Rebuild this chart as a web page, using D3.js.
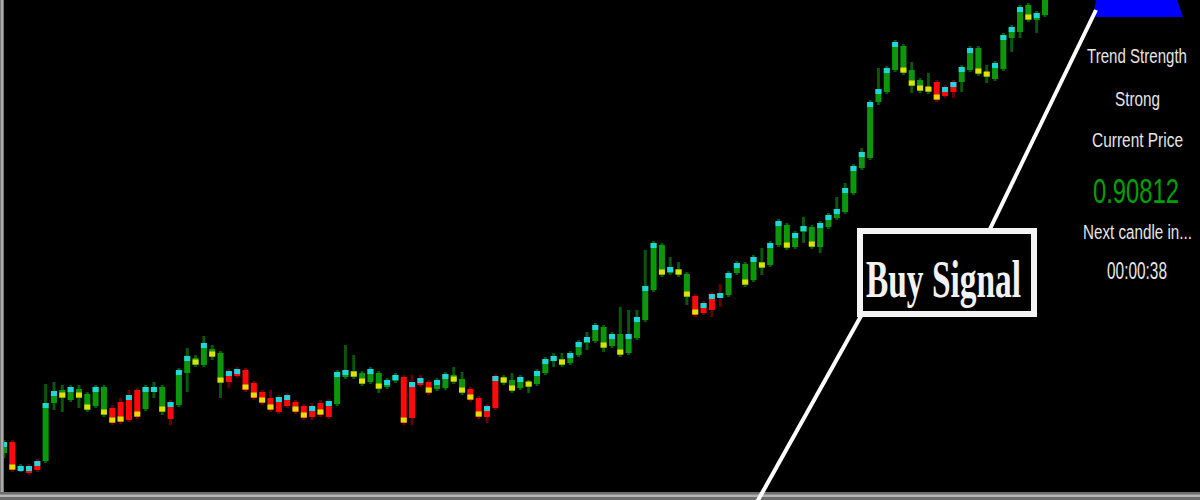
<!DOCTYPE html>
<html><head><meta charset="utf-8">
<script src="https://cdn.jsdelivr.net/npm/d3@7"></script>
<style>html,body{margin:0;padding:0;background:#000;overflow:hidden}</style>
</head><body>
<svg id="chart" width="1200" height="500"></svg>
<script>
const opens=[.8628,.8639,.8611,.8615,.8620,.8620,.8678,.8683,.8681,.8683,
.8671,.8675,.8666,.8673,.8679,.8686,.8691,.8672,.8689,.8669,
.8679,.8676,.8708,.8716,.8716,.8724,.8698,.8710,.8712,.8711,
.8698,.8689,.8683,.8684,.8686,.8679,.8675,.8675,.8678,.8680,
.8677,.8704,.8704,.8697,.8699,.8692,.8694,.8700,.8704,.8699,
.8703,.8699,.8692,.8693,.8699,.8688,.8692,.8683,.8675,.8705,
.8698,.8690,.8693,.8694,.8697,.8708,.8720,.8716,.8718,.8726,
.8738,.8740,.8733,.8735,.8726,.8728,.8743,.8761,.8791,.8806,
.8808,.8806,.8784,.8785,.8778,.8787,.8788,.8786,.8808,.8796,
.8801,.8813,.8816,.8836,.8833,.8834,.8849,.8834,.8834,.8854,
.8863,.8869,.8888,.8913,.8923,.8979,.8989,.9011,.9008,.8995,
.8990,.8989,.8999,.8994,.8999,.8999,.9011,.9007,.9004,.9002,
.9012,.9043,.9049,.9061,.9061,.9066];
const highs=[.8641,.8641,.8617,.8617,.8622,.8697,.8699,.8696,.8696,.8696,
.8689,.8696,.8696,.8676,.8683,.8691,.8693,.8696,.8699,.8696,
.8681,.8713,.8733,.8726,.8745,.8736,.8730,.8712,.8714,.8713,
.8700,.8691,.8691,.8686,.8688,.8681,.8677,.8678,.8681,.8682,
.8711,.8736,.8726,.8710,.8714,.8710,.8703,.8708,.8706,.8706,
.8706,.8701,.8703,.8709,.8714,.8709,.8694,.8685,.8677,.8707,
.8706,.8708,.8706,.8701,.8712,.8724,.8728,.8728,.8730,.8741,
.8749,.8758,.8756,.8749,.8774,.8771,.8771,.8831,.8840,.8838,
.8824,.8819,.8809,.8787,.8780,.8789,.8797,.8810,.8820,.8819,
.8826,.8833,.8840,.8862,.8858,.8850,.8864,.8856,.8860,.8868,
.8884,.8898,.8917,.8933,.8981,.9013,.9015,.9041,.9037,.9019,
.9003,.9008,.9001,.8996,.9001,.9016,.9035,.9035,.9016,.9020,
.9048,.9056,.9076,.9078,.9070,.9085];
const lows=[.8623,.8609,.8609,.8606,.8609,.8618,.8671,.8669,.8679,.8673,
.8669,.8673,.8664,.8656,.8657,.8659,.8662,.8670,.8683,.8666,
.8656,.8674,.8689,.8714,.8714,.8721,.8683,.8693,.8703,.8689,
.8681,.8676,.8669,.8667,.8673,.8667,.8661,.8661,.8664,.8662,
.8675,.8702,.8702,.8695,.8697,.8688,.8692,.8698,.8656,.8656,
.8694,.8686,.8690,.8691,.8697,.8686,.8679,.8662,.8658,.8671,
.8696,.8688,.8691,.8688,.8695,.8706,.8714,.8714,.8716,.8724,
.8731,.8738,.8729,.8733,.8724,.8726,.8741,.8759,.8789,.8804,
.8806,.8804,.8776,.8764,.8766,.8764,.8774,.8784,.8806,.8794,
.8799,.8806,.8814,.8834,.8831,.8832,.8838,.8832,.8828,.8852,
.8861,.8867,.8886,.8911,.8921,.8976,.8987,.9009,.9006,.8988,
.8988,.8987,.8979,.8983,.8983,.8989,.9009,.9005,.8998,.9000,
.9010,.9029,.9043,.9059,.9048,.9064];
const closes=[.8639,.8611,.8615,.8608,.8611,.8678,.8690,.8691,.8694,.8692,
.8687,.8694,.8694,.8658,.8659,.8661,.8664,.8694,.8694,.8694,
.8662,.8711,.8725,.8723,.8738,.8732,.8728,.8699,.8705,.8691,
.8683,.8678,.8671,.8669,.8675,.8669,.8663,.8664,.8666,.8664,
.8709,.8711,.8710,.8708,.8712,.8708,.8701,.8706,.8658,.8663,
.8696,.8688,.8701,.8707,.8706,.8702,.8681,.8664,.8664,.8673,
.8704,.8701,.8704,.8699,.8710,.8722,.8725,.8722,.8728,.8739,
.8744,.8756,.8754,.8747,.8747,.8747,.8764,.8795,.8838,.8836,
.8814,.8812,.8807,.8766,.8768,.8771,.8783,.8808,.8818,.8817,
.8824,.8819,.8838,.8860,.8856,.8848,.8855,.8854,.8858,.8866,
.8872,.8893,.8915,.8929,.8979,.8992,.9013,.9039,.9035,.9011,
.9001,.8994,.8981,.8985,.8989,.9014,.9033,.9033,.9009,.9018,
.9046,.9054,.9074,.9076,.9068,.90812];
// c = cyan mark at body top, y = yellow mark at body bottom, "" = none
const marks=["c","y","c","c","c","c","c","y","c","y",
"y","c","y","y","y","c","y","c","c","y",
"c","c","c","y","c","y","y","c","c","y",
"y","y","y","c","c","y","y","c","y","c",
"c","c","y","y","c","y","c","c","y","c",
"c","y","c","c","y","y","y","y","c","c",
"y","y","c","y","c","c","c","y","c","c",
"c","c","y","c","y","c","c","c","c","y",
"c","y","y","y","c","c","c","c","c","y",
"c","y","c","c","y","c","c","y","c","c",
"c","c","c","c","c","c","c","c","y","y",
"y","y","y","c","c","c","c","y","y","c",
"c","c","c","y","c",""];
const infoLabels=["Trend Strength","Strong","Current Price","Next candle in...","00:00:38"];
const signalLabel="Buy Signal";
const currentPrice=closes[closes.length-1];

const svg=d3.select("#chart");
svg.append("rect").attr("width",1200).attr("height",500).attr("fill","#000");

const x=d3.scaleLinear().domain([0,opens.length-1]).range([4,1045]);
const y=d3.scaleLinear().domain([0.8581,0.9081]).range([500,0]);

const candles=opens.map((o,i)=>({i,o,h:highs[i],l:lows[i],c:closes[i],m:marks[i]}));
const isUp=d=>d.c>=d.o;
const bw=6;
const g=svg.append("g");

g.selectAll("line.wick").data(candles).join("line").attr("class","wick")
  .attr("x1",d=>x(d.i)).attr("x2",d=>x(d.i))
  .attr("y1",d=>y(d.h)).attr("y2",d=>y(d.l))
  .attr("stroke",d=>isUp(d)?"#0a560a":"#640000").attr("stroke-width",3);

const bodyTop=d=>y(Math.max(d.o,d.c)), bodyBot=d=>y(Math.min(d.o,d.c));
g.selectAll("rect.body").data(candles).join("rect").attr("class","body")
  .attr("x",d=>x(d.i)-bw/2).attr("y",bodyTop)
  .attr("width",bw).attr("height",d=>Math.max(2,bodyBot(d)-bodyTop(d)))
  .attr("fill",d=>isUp(d)?"#0c960c":"#ff0a0a");

g.selectAll("rect.mark").data(candles.filter(d=>d.m)).join("rect").attr("class","mark")
  .attr("x",d=>x(d.i)-bw/2).attr("width",bw)
  .attr("y",d=>d.m==="c"?bodyTop(d):Math.max(bodyTop(d),bodyBot(d)-5)-0.5)
  .attr("height",5)
  .attr("fill",d=>d.m==="c"?"#1ed6dc":"#e2e000");

// frame
svg.append("rect").attr("x",0).attr("y",0).attr("width",4).attr("height",492).attr("fill","#7a7a7a");
svg.append("rect").attr("x",1).attr("y",0).attr("width",2).attr("height",492).attr("fill","#a8a8a8");
svg.append("rect").attr("x",0).attr("y",492).attr("width",1200).attr("height",8).attr("fill","#6e6e6e");
svg.append("rect").attr("x",0).attr("y",494.5).attr("width",1200).attr("height",2.5).attr("fill","#b4b4b4");

// signal arrow
svg.append("polygon").attr("points","1096,0 1177,0 1183,17 1093,17").attr("fill","#0000ff");

// annotation lines
svg.append("line").attr("x1",1096).attr("y1",10).attr("x2",990).attr("y2",229)
  .attr("stroke","#fff").attr("stroke-width",4);
svg.append("line").attr("x1",861).attr("y1",316).attr("x2",757).attr("y2",502)
  .attr("stroke","#fff").attr("stroke-width",4);

// buy signal box
svg.append("rect").attr("x",860).attr("y",231).attr("width",174).attr("height",83)
  .attr("fill","#000").attr("stroke","#f4f4f4").attr("stroke-width",6);

// condensed text helper: scale horizontally so the text spans the wanted width
function condensed(sel, t, cx, by, w, size, family, weight, fill){
  const gg=sel.append("g");
  const tx=gg.append("text").attr("x",0).attr("y",0).attr("text-anchor","middle")
    .attr("font-family",family).attr("font-weight",weight).attr("font-size",size)
    .attr("fill",fill).text(t);
  const nat=tx.node().getComputedTextLength();
  gg.attr("transform",`translate(${cx},${by}) scale(${w/nat},1)`);
}
condensed(svg,signalLabel,943.5,297,155,52,"'Liberation Serif','Times New Roman',serif","bold","#f2f2f2");

// info panel
const sans="'Liberation Sans',Arial,sans-serif";
const info=[
 {t:infoLabels[0],x:1137,y:63,w:100,s:21,c:"#e6e6e6"},
 {t:infoLabels[1],x:1137.5,y:106,w:45,s:21,c:"#e6e6e6"},
 {t:infoLabels[2],x:1137.5,y:147,w:91,s:21,c:"#e6e6e6"},
 {t:d3.format(".5f")(currentPrice),x:1136,y:203,w:86,s:36,c:"#00a000"},
 {t:infoLabels[3],x:1137.5,y:239,w:109,s:21,c:"#e6e6e6"},
 {t:infoLabels[4],x:1137,y:279,w:60,s:23,c:"#e6e6e6"}
];
info.forEach(d=>condensed(svg,d.t,d.x,d.y,d.w,d.s,sans,"normal",d.c));
</script>
</body></html>
